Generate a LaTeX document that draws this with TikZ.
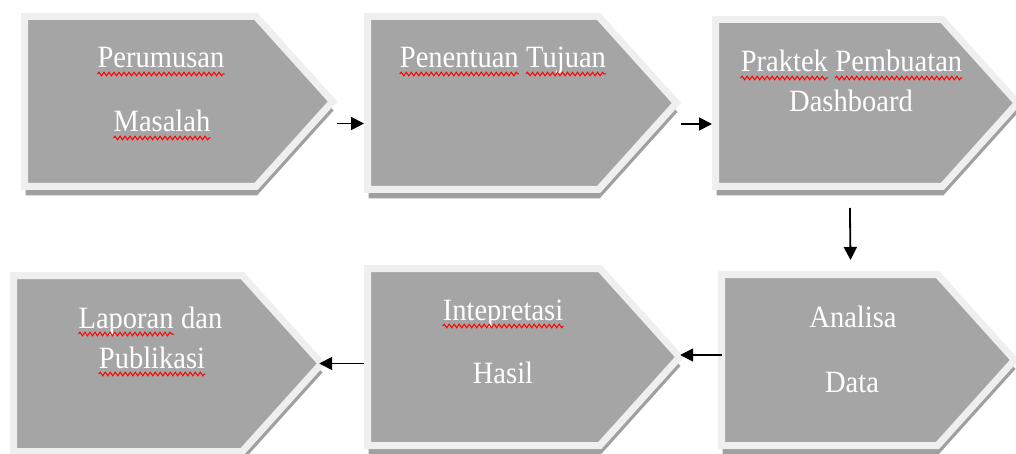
\documentclass[tikz,border=0pt]{standalone}
\usepackage{fontspec}
\setmainfont{Liberation Serif}
\newfontfamily\tulisan[FakeStretch=0.92]{Liberation Serif}
\usetikzlibrary{positioning,shapes.symbols,shadows,arrows.meta,decorations.pathmorphing}

\definecolor{isi}{HTML}{A5A5A5}
\definecolor{tepi}{HTML}{EFEFEF}
\definecolor{bayang}{HTML}{A0A0A0}

\newcommand{\garis}[1]{\draw[salah]([yshift=-6pt]#1.base west)--([yshift=-6pt]#1.base east);}

\begin{document}
\begin{tikzpicture}[x=1pt,y=-1pt,
    tahap/.style={signal, signal to=east, signal pointer angle=96, fill=isi, draw=tepi,
        line width=7pt, inner sep=0pt, anchor=west,
        drop shadow={shadow xshift=1pt, shadow yshift=-9pt, fill=bayang, opacity=1}},
    teks/.style={text=white, font=\tulisan\fontsize{31}{36}\selectfont, inner sep=0pt, anchor=base},
    salah/.style={red, line width=1pt, decorate, decoration={snake, segment length=5pt, amplitude=1.8pt}},
    panah/.style={line width=1.8pt, -{Triangle[length=13pt,width=13pt]}}]

\useasboundingbox (0,0) rectangle (1016,454);

% baris atas
\node[tahap, minimum width=308pt, minimum height=170pt] (s1) at (21,101.5) {};
\node[tahap, minimum width=309pt, minimum height=173pt] (s2) at (364,103) {};
\node[tahap, minimum width=302pt, minimum height=167pt] (s3) at (712,103) {};

% baris bawah
\node[tahap, minimum width=308pt, minimum height=176pt] (s4) at (10,363.5) {};
\node[tahap, minimum width=312pt, minimum height=177pt] (s5) at (364,357) {};
\node[tahap, minimum width=293pt, minimum height=171pt] (s6) at (718,360) {};

\node[teks] (t1a) at (161,68) {Perumusan};
\node[teks] (t1b) at (162,132) {Masalah};

\node[teks, anchor=base west] (t2a) at (399.7,68) {Penentuan};
\node[teks, base right=7.1pt of t2a] (t2b) {Tujuan};

\node[teks, anchor=base west] (t3a) at (740.6,72) {Praktek};
\node[teks, base right=7.1pt of t3a] (t3b) {Pembuatan};
\node[teks] (t3c) at (851,112) {Dashboard};

\node[teks, anchor=base west] (t4a) at (78.4,328) {Laporan};
\node[teks, base right=7.1pt of t4a] (t4b) {dan};
\node[teks] (t4c) at (152,368) {Publikasi};

\node[teks] (t5a) at (503,320) {Intepretasi};
\node[teks] (t5b) at (503,383) {Hasil};

\node[teks] (t6a) at (853,327) {Analisa};
\node[teks] (t6b) at (852,392) {Data};

\garis{t1a} \garis{t1b}
\garis{t2a} \garis{t2b}
\garis{t3a} \garis{t3b}
\garis{t4a} \garis{t4c}
\garis{t5a}

\draw[panah] ([yshift=-22pt]s1.east) -- ([yshift=-22pt]s1.east -| s2.west);
\draw[panah] ([yshift=-21pt]s2.east) -- ([yshift=-21pt]s2.east -| s3.west);
\draw[panah] ([xshift=21pt,yshift=-18pt]s3.south) -- ([xshift=21pt,yshift=11pt]s6.north);
\draw[panah] ([xshift=4pt,yshift=5pt]s6.west) -- ([xshift=-4pt,yshift=5pt]s6.west -| s5.east);
\draw[panah] (s5.west |- s4.east) -- ([xshift=-7pt]s4.east);

\end{tikzpicture}
\end{document}
